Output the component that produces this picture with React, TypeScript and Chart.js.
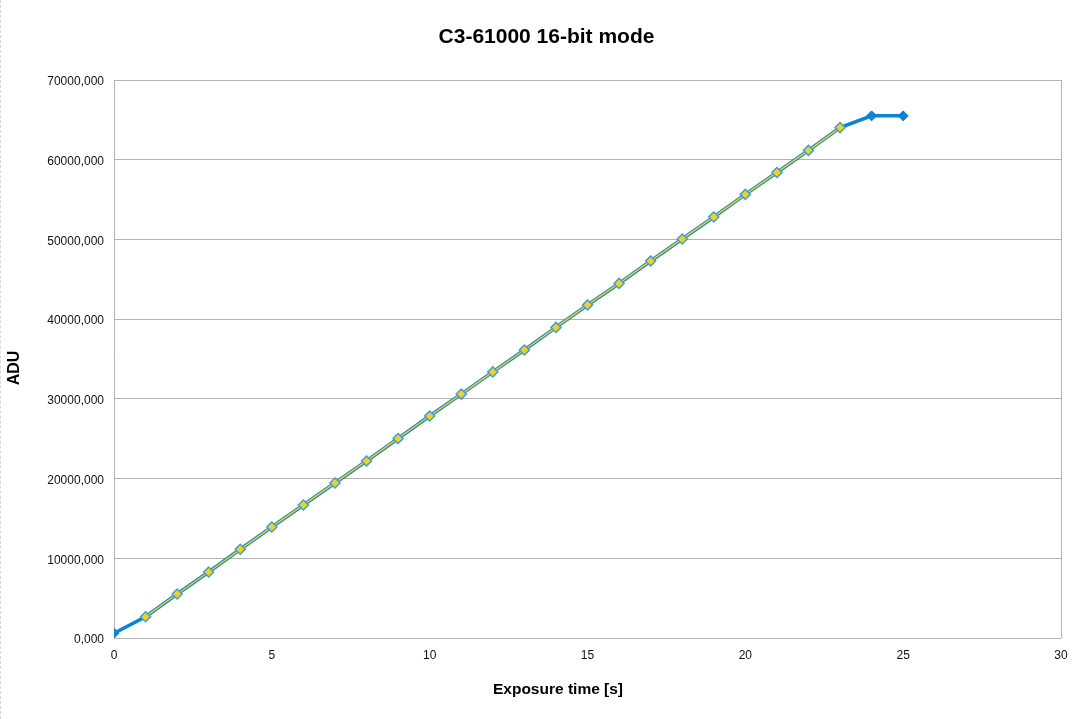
import { useEffect, useRef } from "react"
import { Chart, registerables } from "chart.js"

Chart.register(...registerables)

// exposure time in seconds
const exposureTimes = [0, 1, 2, 3, 4, 5, 6, 7, 8, 9, 10, 11, 12, 13, 14, 15, 16, 17, 18, 19, 20, 21, 22, 23, 24, 25]

// measured ADU (all points)
const aduValues = [
  590, 2670, 5520, 8280, 11130, 13930, 16690, 19450, 22210, 25030, 27850, 30600, 33380, 36130, 38960, 41780,
  44480, 47300, 50060, 52820, 55650, 58400, 61170, 64030, 65500, 65500,
]

// linear region (1..23 s)
const linearTimes = [1, 2, 3, 4, 5, 6, 7, 8, 9, 10, 11, 12, 13, 14, 15, 16, 17, 18, 19, 20, 21, 22, 23]
const linearValues = [
  2670, 5520, 8280, 11130, 13930, 16690, 19450, 22210, 25030, 27850, 30600, 33380, 36130, 38960, 41780, 44480,
  47300, 50060, 52820, 55650, 58400, 61170, 64030,
]

const chartTitle = "C3-61000 16-bit mode"
const xTitle = "Exposure time [s]"
const yTitle = "ADU"

const FONT = "'Liberation Sans', Arial, sans-serif"

// titles placed like the spreadsheet export (not centred on the plot area)
const textPlugin = {
  id: "chartTexts",
  afterDraw(chart: any) {
    const c = chart.ctx
    c.save()
    c.fillStyle = "#000"
    c.textAlign = "center"
    c.textBaseline = "middle"
    c.font = `bold 21px ${FONT}`
    c.fillText(chartTitle, chart.width / 2 + 1, 37)
    c.font = `bold 15.5px ${FONT}`
    c.fillText(xTitle, 557, 690)
    c.translate(14, 368)
    c.rotate(-Math.PI / 2)
    c.font = `bold 16px ${FONT}`
    c.fillText(yTitle, 0, 0)
    c.restore()
  },
}

export default function App() {
  const chartRef = useRef<HTMLCanvasElement>(null)
  const chartInstance = useRef<Chart | null>(null)

  useEffect(() => {
    if (!chartRef.current) return
    if (chartInstance.current) chartInstance.current.destroy()

    const ctx = chartRef.current.getContext("2d")
    if (!ctx) return

    chartInstance.current = new Chart(ctx, {
      type: "line",
      data: {
        datasets: [
          {
            label: "linear",
            data: linearTimes.map((t, i) => ({ x: t, y: linearValues[i] })),
            borderColor: "#f2d21c",
            borderWidth: 1.5,
            pointStyle: "rectRot",
            pointRadius: 5,
            pointBackgroundColor: "#f7cf1d",
            pointBorderColor: "#3fa2e2",
            pointBorderWidth: 1.5,
            tension: 0,
            order: 1,
          },
          {
            label: "ADU",
            data: exposureTimes.map((t, i) => ({ x: t, y: aduValues[i] })),
            borderColor: "#0a84d4",
            borderWidth: 3.5,
            pointStyle: "rectRot",
            pointRadius: 5,
            pointBackgroundColor: "#0a84d4",
            pointBorderColor: "#0a84d4",
            pointBorderWidth: 1,
            tension: 0,
            order: 2,
          },
        ],
      },
      options: {
        animation: false,
        responsive: true,
        maintainAspectRatio: false,
        layout: { padding: { left: 0, right: 29, top: 80, bottom: 0 } },
        plugins: {
          legend: { display: false },
          tooltip: { enabled: false },
          title: { display: false },
        },
        scales: {
          x: {
            type: "linear",
            min: 0,
            max: 30,
            border: { display: false },
            grid: {
              drawTicks: false,
              color: (c: any) => (c.tick && c.tick.value === 30 ? "#b3b3b3" : "rgba(0,0,0,0)"),
            },
            ticks: {
              stepSize: 5,
              color: "#111",
              padding: 10,
              font: { family: FONT, size: 12 },
            },
            afterFit: (scale: any) => {
              scale.height = 81
            },
          },
          y: {
            min: 0,
            max: 70000,
            border: { display: true, color: "#b3b3b3" },
            grid: { drawTicks: false, color: "#b3b3b3" },
            ticks: {
              stepSize: 10000,
              color: "#111",
              padding: 10,
              labelOffset: 2,
              font: { family: FONT, size: 12 },
              callback: (value) => value + ",000",
            },
            afterFit: (scale: any) => {
              scale.width = 113
            },
          },
        },
      },
      plugins: [textPlugin],
    })

    return () => {
      if (chartInstance.current) chartInstance.current.destroy()
    }
  }, [])

  return (
    <div
      style={{
        position: "fixed",
        left: 0,
        top: 0,
        width: 1090,
        height: 719,
        background: "#fff",
        borderLeft: "1px dashed #d8d8d8",
        boxSizing: "border-box",
      }}
    >
      <canvas ref={chartRef}></canvas>
    </div>
  )
}
